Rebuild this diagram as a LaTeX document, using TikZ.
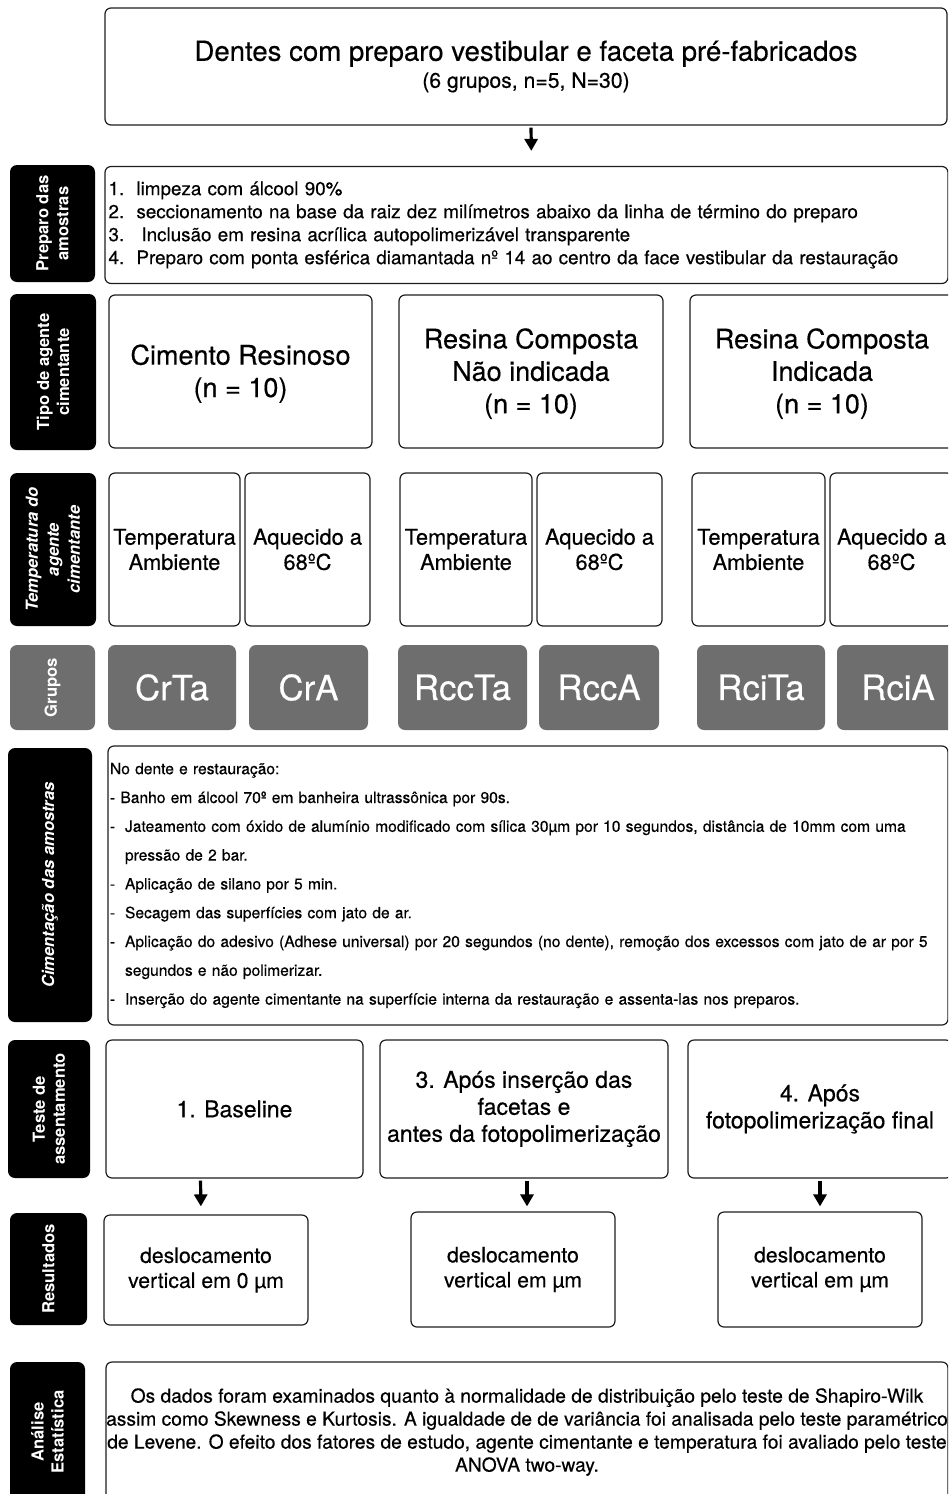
\documentclass[tikz,border=0pt]{standalone}
\usepackage{fontspec}
\setmainfont{TeX Gyre Heros}[UprightFeatures={FakeBold=0.4}]
\usetikzlibrary{arrows.meta}
\definecolor{edgedark}{HTML}{1E1E1E}
\definecolor{grpgray}{HTML}{6E6E6E}

\begin{document}
\begin{tikzpicture}[x=0.5pt,y=-0.5pt,
  sz/.style 2 args={minimum width=#1*0.5pt,minimum height=#2*0.5pt},
  bx/.style={draw=edgedark,line width=0.6pt,rounded corners=3pt,fill=white,inner sep=0pt,align=center},
  lb/.style={fill=black,rounded corners=3.5pt,text=white,rotate=90,inner sep=0pt,align=center,font=\bfseries\fontsize{8.3}{10}\selectfont},
  lbi/.style={lb,font=\bfseries\itshape\fontsize{8.3}{10.5}\selectfont},
  gr/.style={fill=grpgray,rounded corners=3.5pt,text=white,inner sep=0pt,font=\fontsize{17.4}{20}\selectfont},
  ar/.style={-{Triangle[length=6pt,width=6.5pt]},line width=1.6pt,shorten <=1pt}]
\useasboundingbox (0,0) rectangle (948,1494);
\clip (0,0) rectangle (948,1494);
% amostras
\node[bx,sz={842}{117}] (top) at (526,66.5) {{\fontsize{13.8}{16}\selectfont Dentes com preparo vestibular e faceta pré-fabricados}\\[1.5pt]{\fontsize{10.6}{14}\selectfont (6 grupos, n=5, N=30)}};
\node[lb,sz={117}{85}] (lprep) at (52.5,223.5) {Preparo das\\amostras};
\node[bx,sz={843}{117},align=left,inner xsep=1.5pt,text width=418pt,font=\fontsize{9.4}{11.5}\selectfont] (prep) at (526.5,225) {\makebox[14pt][l]{1.}limpeza com álcool 90\%\\\makebox[14pt][l]{2.}seccionamento na base da raiz dez milímetros abaixo da linha de término do preparo\\\makebox[14pt][l]{3.}\hspace{2.5pt}Inclusão em resina acrílica autopolimerizável transparente\\\makebox[14pt][l]{4.}Preparo com ponta esférica diamantada nº 14 ao centro da face vestibular da restauração};
\draw[ar,shorten >=7.5pt] ([xshift=2.5pt]top.south) -- ([xshift=2.5pt]prep.north);
% agente cimentante
\node[lb,sz={156}{86}] (ltipo) at (53,372) {Tipo de agente\\cimentante};
\node[bx,sz={263}{153},font=\fontsize{13.5}{16.2}\selectfont] (cr) at (240.5,371.5) {\\[-4pt]Cimento Resinoso\\(n = 10)};
\node[bx,sz={264}{153},font=\fontsize{13.5}{16.2}\selectfont] (rcn) at (531,371.5) {\\[-4pt]Resina Composta\\Não indicada\\(n = 10)};
\node[bx,sz={264}{153},font=\fontsize{13.5}{16.2}\selectfont] (rci) at (822,371.5) {\\[-4pt]Resina Composta\\Indicada\\(n = 10)};
% temperatura
\node[lbi,sz={153}{86}] (ltemp) at (53,549.5) {Temperatura do\\agente\\cimentante};
\node[bx,sz={131}{153},font=\fontsize{10.9}{12.6}\selectfont] (crta) at (174.5,549.5) {Temperatura\\Ambiente};
\node[bx,sz={125}{153},font=\fontsize{10.9}{12.6}\selectfont] (cra) at (307.5,549.5) {Aquecido a\\68ºC};
\node[bx,sz={132}{153},font=\fontsize{10.9}{12.6}\selectfont] (rccta) at (466,549.5) {Temperatura\\Ambiente};
\node[bx,sz={125}{153},font=\fontsize{10.9}{12.6}\selectfont] (rcca) at (599.5,549.5) {Aquecido a\\68ºC};
\node[bx,sz={133}{153},font=\fontsize{10.9}{12.6}\selectfont] (rcita) at (758.5,549.5) {Temperatura\\Ambiente};
\node[bx,sz={123}{153},font=\fontsize{10.9}{12.6}\selectfont] (rcia) at (891.5,549.5) {Aquecido a\\68ºC};
% grupos
\node[gr,sz={85}{85},rotate=90,font=\bfseries\fontsize{8.3}{10}\selectfont] (lgrp) at (52.5,687.5) {Grupos};
\node[gr,sz={128}{85}] (g1) at (172,687.5) {CrTa};
\node[gr,sz={119}{85}] (g2) at (308.5,687.5) {CrA};
\node[gr,sz={129}{85}] (g3) at (462.5,687.5) {RccTa};
\node[gr,sz={120}{85}] (g4) at (599,687.5) {RccA};
\node[gr,sz={128}{85}] (g5) at (761,687.5) {RciTa};
\node[gr,sz={122}{85}] (g6) at (898,687.5) {RciA};
% cimentacao
\node[lbi,sz={274}{84}] (lcim) at (50,885) {Cimentação das amostras};
\node[bx,sz={840}{279},align=left,inner xsep=1pt,text width=418pt,font=\fontsize{7.8}{14.4}\selectfont] (cim) at (528,885.5) {No dente e restauração:\\- Banho em álcool 70º em banheira ultrassônica por 90s.\\\makebox[7.5pt][l]{-}Jateamento com óxido de alumínio modificado com sílica 30µm por 10 segundos, distância de 10mm com uma\\\hspace*{7.5pt}pressão de 2 bar.\\\makebox[7.5pt][l]{-}Aplicação de silano por 5 min.\\\makebox[7.5pt][l]{-}Secagem das superfícies com jato de ar.\\\makebox[7.5pt][l]{-}Aplicação do adesivo (Adhese universal) por 20 segundos (no dente), remoção dos excessos com jato de ar por 5\\\hspace*{7.5pt}segundos e não polimerizar.\\\makebox[7.5pt][l]{-}Inserção do agente cimentante na superfície interna da restauração e assenta-las nos preparos.};
% assentamento
\node[lb,sz={138}{82}] (lteste) at (49,1109) {Teste de\\assentamento};
\node[bx,sz={257}{138},font=\fontsize{11.5}{13.5}\selectfont] (t1) at (234.5,1109) {1. Baseline};
\node[bx,sz={288}{138},font=\fontsize{11.5}{13.5}\selectfont] (t3) at (524,1109) {3. Após inserção das\\facetas e\\antes da fotopolimerização};
\node[bx,sz={264}{138},font=\fontsize{11.5}{13.5}\selectfont] (t4) at (820,1109) {4. Após\\fotopolimerização final};
% resultados
\node[lb,sz={112}{77}] (lres) at (48.5,1269) {Resultados};
\node[bx,sz={204}{110},font=\fontsize{10.6}{12.5}\selectfont] (r1) at (206,1270) {deslocamento\\vertical em 0 µm};
\node[bx,sz={204}{115},font=\fontsize{10.6}{12.5}\selectfont] (r3) at (513,1269.5) {deslocamento\\vertical em µm};
\node[bx,sz={204}{115},font=\fontsize{10.6}{12.5}\selectfont] (r4) at (820,1269.5) {deslocamento\\vertical em µm};
\draw[ar,shorten >=4pt] ([xshift=-17pt]t1.south) -- ([xshift=-2.5pt]r1.north);
\draw[ar,shorten >=2.5pt] ([xshift=1.5pt]t3.south) -- ([xshift=7pt]r3.north);
\draw[ar,shorten >=2.5pt] (t4.south) -- (r4.north);
% estatistica
\node[lb,sz={140}{75}] (lana) at (47.5,1432) {Análise\\Estatística};
\node[bx,sz={842}{140},font=\fontsize{9.6}{11.5}\selectfont] (ana) at (527,1432) {Os dados foram examinados quanto à normalidade de distribuição pelo teste de Shapiro-Wilk\\assim como Skewness e Kurtosis. A igualdade de de variância foi analisada pelo teste paramétrico\\de Levene. O efeito dos fatores de estudo, agente cimentante e temperatura foi avaliado pelo teste\\ANOVA two-way.};
\end{tikzpicture}
\end{document}
